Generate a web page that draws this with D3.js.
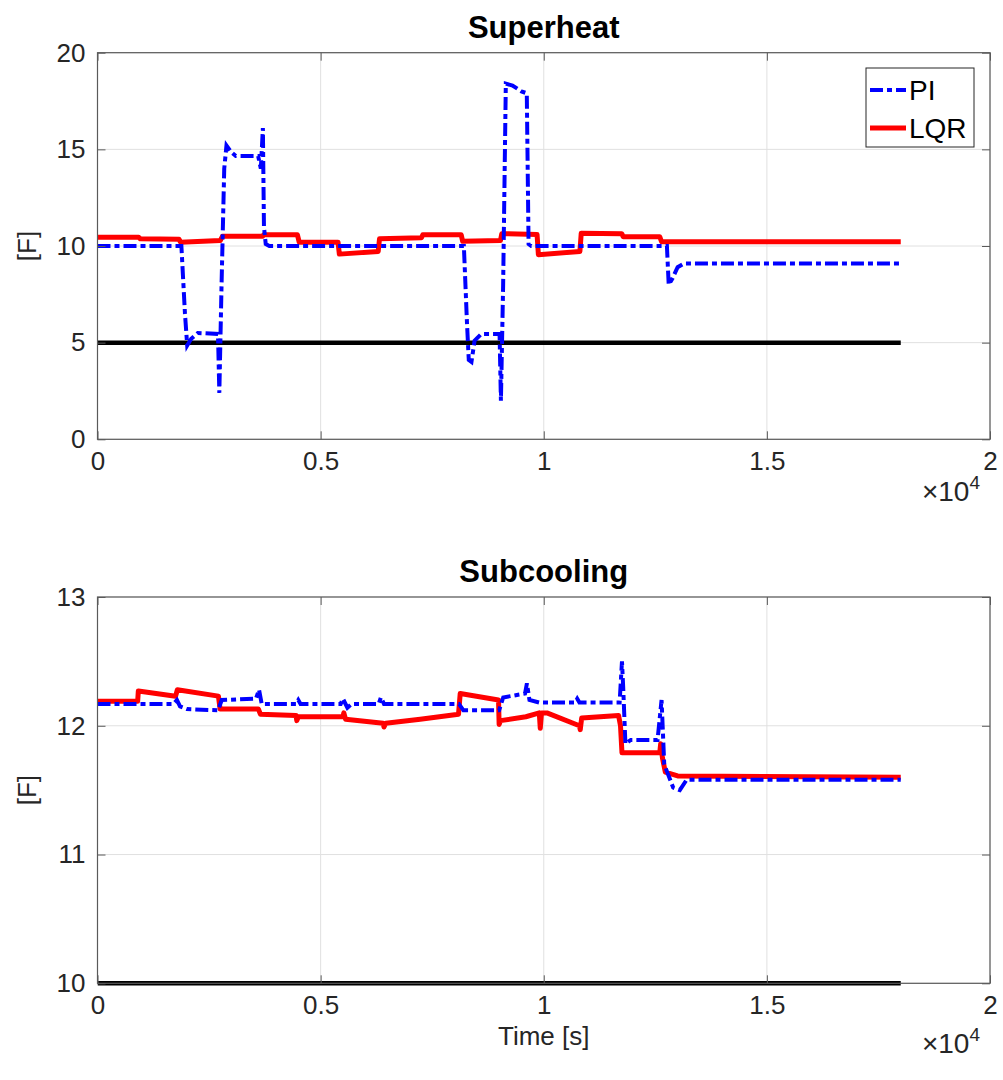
<!DOCTYPE html>
<html>
<head>
<meta charset="utf-8">
<script src="https://cdn.jsdelivr.net/npm/d3@7"></script>
<style>
  html, body { margin: 0; padding: 0; background: #fff; }
  svg { display: block; font-family: "Liberation Sans", Arial, Helvetica, sans-serif; }
</style>
</head>
<body>
<svg id="fig" width="1003" height="1080"></svg>
<script>
// ---- time axis ----
const xTicks = [0, 5000, 10000, 15000, 20000];
const xTickLabels = ["0", "0.5", "1", "1.5", "2"];

// ---- superheat panel ----
const shTicks = [0, 5, 10, 15, 20];
const shSetpoint = [[0, 5], [18000, 5]];
const shPI = [
  [0, 10.0], [1880, 10.0], [1960, 6.5], [2010, 4.85], [2100, 5.2], [2250, 5.5], [2700, 5.45],
  [2730, 2.4], [2780, 8.0], [2840, 14.0], [2890, 15.2], [3000, 14.85], [3100, 14.65], [3600, 14.65],
  [3660, 14.0], [3706, 16.1], [3730, 11.0], [3770, 10.1], [3850, 10.0], [8210, 10.0],
  [8280, 6.0], [8320, 4.1], [8380, 4.0], [8450, 5.1], [8600, 5.45], [9010, 5.45],
  [9040, 2.0], [9090, 8.0], [9150, 18.4], [9300, 18.3], [9500, 18.0], [9620, 17.9],
  [9660, 10.1], [9720, 10.0], [12760, 10.0], [12800, 8.0], [12880, 8.3], [13000, 8.9],
  [13150, 9.1], [18000, 9.1]
];
const shLQR = [
  [0, 10.45], [924, 10.45], [960, 10.37], [1826, 10.35], [1860, 10.2], [2750, 10.28],
  [2800, 10.5], [3700, 10.5], [3725, 10.58], [4480, 10.58], [4520, 10.2], [5390, 10.2],
  [5420, 9.58], [6290, 9.72], [6320, 10.38], [7260, 10.43], [7290, 10.58], [8150, 10.58],
  [8183, 10.24], [9030, 10.28], [9060, 10.64], [9850, 10.6], [9880, 9.55], [10810, 9.72],
  [10840, 10.66], [11750, 10.63], [11780, 10.48], [12600, 10.48], [12640, 10.22], [18000, 10.22]
];

// ---- subcooling panel ----
const scTicks = [10, 11, 12, 13];
const scSetpoint = [[0, 10], [18000, 10]];
const scPI = [
  [0, 12.17], [1700, 12.17], [1780, 12.2], [1850, 12.15], [2000, 12.13], [2700, 12.12],
  [2785, 12.2], [3550, 12.21], [3620, 12.28], [3680, 12.17], [4450, 12.17], [4500, 12.2],
  [4550, 12.17], [5450, 12.17], [5500, 12.21], [5600, 12.14], [5700, 12.17], [6300, 12.17],
  [6350, 12.22], [6420, 12.17], [8100, 12.17], [8200, 12.12], [9000, 12.12], [9092, 12.22],
  [9580, 12.25], [9623, 12.33], [9680, 12.2], [9900, 12.18], [10700, 12.18], [10750, 12.21],
  [10800, 12.18], [11700, 12.18], [11753, 12.5], [11780, 12.3], [11830, 11.86], [11950, 11.89],
  [12550, 11.89], [12640, 12.2], [12700, 11.7], [12900, 11.52], [13050, 11.5], [13200, 11.58],
  [18000, 11.58]
];
const scLQR = [
  [0, 12.19], [900, 12.19], [915, 12.27], [1750, 12.23], [1790, 12.28], [2710, 12.23],
  [2747, 12.13], [3606, 12.13], [3650, 12.09], [4450, 12.08], [4466, 12.04], [4500, 12.07],
  [5500, 12.07], [5520, 12.1], [5560, 12.05], [6400, 12.02], [6420, 11.99], [6460, 12.02],
  [7231, 12.05], [8090, 12.09], [8128, 12.25], [8987, 12.2], [9000, 12.01], [9030, 12.04],
  [9600, 12.07], [9900, 12.1], [9922, 11.98], [9950, 12.1], [10071, 12.1], [10800, 12.0],
  [10818, 11.97], [10850, 12.06], [11677, 12.08], [11720, 12.0], [11753, 11.79], [12600, 11.79],
  [12620, 11.86], [12660, 11.75], [12724, 11.64], [13000, 11.61], [18000, 11.6]
];

const seriesNames = ["PI", "LQR"];

const svg = d3.select("#fig");
svg.append("rect").attr("width", 1003).attr("height", 1080).attr("fill", "#fff");

const xLeft = 97.5, xRight = 990;
const x = d3.scaleLinear().domain([0, 20000]).range([xLeft, xRight]);

const textColor = "#262626";
const gridColor = "#e0e0e0";
const axisColor = "#5a5a5a";
const piDash = "13,4,5,4";

function panel(id, top, bottom, yDomain, yTicks, title, setpoint, pi, lqr, opts) {
  const y = d3.scaleLinear().domain(yDomain).range([bottom, top]);
  const g = svg.append("g").attr("id", id);

  // grid
  g.append("g").selectAll("line").data(xTicks).join("line")
    .attr("x1", d => x(d)).attr("x2", d => x(d))
    .attr("y1", top).attr("y2", bottom)
    .attr("stroke", gridColor).attr("stroke-width", 1);
  g.append("g").selectAll("line").data(yTicks).join("line")
    .attr("x1", xLeft).attr("x2", xRight)
    .attr("y1", d => y(d)).attr("y2", d => y(d))
    .attr("stroke", gridColor).attr("stroke-width", 1);

  // data lines
  g.append("clipPath").attr("id", id + "-clip")
    .append("rect").attr("x", xLeft).attr("y", top - 4)
    .attr("width", xRight - xLeft).attr("height", bottom - top + 8);
  const line = d3.line().x(d => x(d[0])).y(d => y(d[1]));
  const plot = g.append("g").attr("clip-path", `url(#${id}-clip)`);
  plot.append("path").datum(setpoint).attr("d", line)
    .attr("fill", "none").attr("stroke", "#000").attr("stroke-width", 4.5);
  plot.append("path").datum(lqr).attr("d", line)
    .attr("fill", "none").attr("stroke", "#ff0000").attr("stroke-width", 5)
    .attr("stroke-linejoin", "round");
  plot.append("path").datum(pi).attr("d", line)
    .attr("fill", "none").attr("stroke", "#0000ff").attr("stroke-width", 4)
    .attr("stroke-dasharray", piDash);

  // axes: ticks drawn inward on all four sides
  const ax = g.append("g").attr("class", "axes");
  const bottomAxis = d3.axisBottom(x).tickValues(xTicks)
    .tickFormat((d, i) => xTickLabels[i]).tickSizeInner(-8).tickSizeOuter(0).tickPadding(12);
  const topAxis = d3.axisTop(x).tickValues(xTicks).tickFormat("").tickSizeInner(-8).tickSizeOuter(0);
  const leftAxis = d3.axisLeft(y).tickValues(yTicks).tickFormat(d3.format("d"))
    .tickSizeInner(-8).tickSizeOuter(0).tickPadding(12);
  const rightAxis = d3.axisRight(y).tickValues(yTicks).tickFormat("").tickSizeInner(-8).tickSizeOuter(0);

  ax.append("g").attr("transform", `translate(0,${bottom})`).call(bottomAxis);
  ax.append("g").attr("transform", `translate(0,${top})`).call(topAxis);
  ax.append("g").attr("transform", `translate(${xLeft},0)`).call(leftAxis);
  ax.append("g").attr("transform", `translate(${xRight},0)`).call(rightAxis);
  ax.selectAll(".domain").remove();
  ax.selectAll(".tick line").attr("stroke", axisColor).attr("stroke-width", 1);
  ax.selectAll(".tick text").attr("fill", textColor).attr("font-size", 26)
    .attr("font-family", "Liberation Sans, Arial, sans-serif");

  g.append("rect").attr("x", xLeft).attr("y", top)
    .attr("width", xRight - xLeft).attr("height", bottom - top)
    .attr("fill", "none").attr("stroke", axisColor).attr("stroke-width", 1.2);

  // title
  g.append("text").attr("x", (xLeft + xRight) / 2).attr("y", top - 15)
    .attr("text-anchor", "middle").attr("font-weight", "bold").attr("font-size", 31)
    .attr("fill", "#000").text(title);

  // y label
  g.append("text")
    .attr("transform", `translate(36,${(top + bottom) / 2}) rotate(-90)`)
    .attr("text-anchor", "middle").attr("font-size", 26).attr("fill", textColor)
    .text("[F]");

  // exponent of the time axis
  const ex = g.append("text").attr("x", 980).attr("y", bottom + opts.expY)
    .attr("text-anchor", "end").attr("font-size", 28).attr("fill", textColor);
  ex.append("tspan").text("\u00d710");
  ex.append("tspan").attr("font-size", 19).attr("dy", -12).text("4");

  if (opts.xlabel) {
    g.append("text").attr("x", (xLeft + xRight) / 2).attr("y", bottom + 62)
      .attr("text-anchor", "middle").attr("font-size", 26).attr("fill", textColor)
      .text(opts.xlabel);
  }

  if (opts.legend) {
    const lg = g.append("g");
    lg.append("rect").attr("x", 866).attr("y", 68).attr("width", 108).attr("height", 79)
      .attr("fill", "#fff").attr("stroke", textColor).attr("stroke-width", 1);
    const rows = [
      { name: seriesNames[0], color: "#0000ff", dash: piDash, w: 4, yy: 90 },
      { name: seriesNames[1], color: "#ff0000", dash: null, w: 5, yy: 128 }
    ];
    rows.forEach(r => {
      lg.append("line").attr("x1", 870).attr("x2", 906).attr("y1", r.yy).attr("y2", r.yy)
        .attr("stroke", r.color).attr("stroke-width", r.w)
        .attr("stroke-dasharray", r.dash);
      lg.append("text").attr("x", 909).attr("y", r.yy + 10).attr("font-size", 28)
        .attr("fill", "#000").text(r.name);
    });
  }
}

panel("superheat", 52.7, 439.3, [0, 20], shTicks, "Superheat", shSetpoint, shPI, shLQR, { legend: true, expY: 62 });
panel("subcooling", 597, 983.3, [10, 13], scTicks, "Subcooling", scSetpoint, scPI, scLQR, { xlabel: "Time [s]", expY: 70 });
</script>
</body>
</html>
